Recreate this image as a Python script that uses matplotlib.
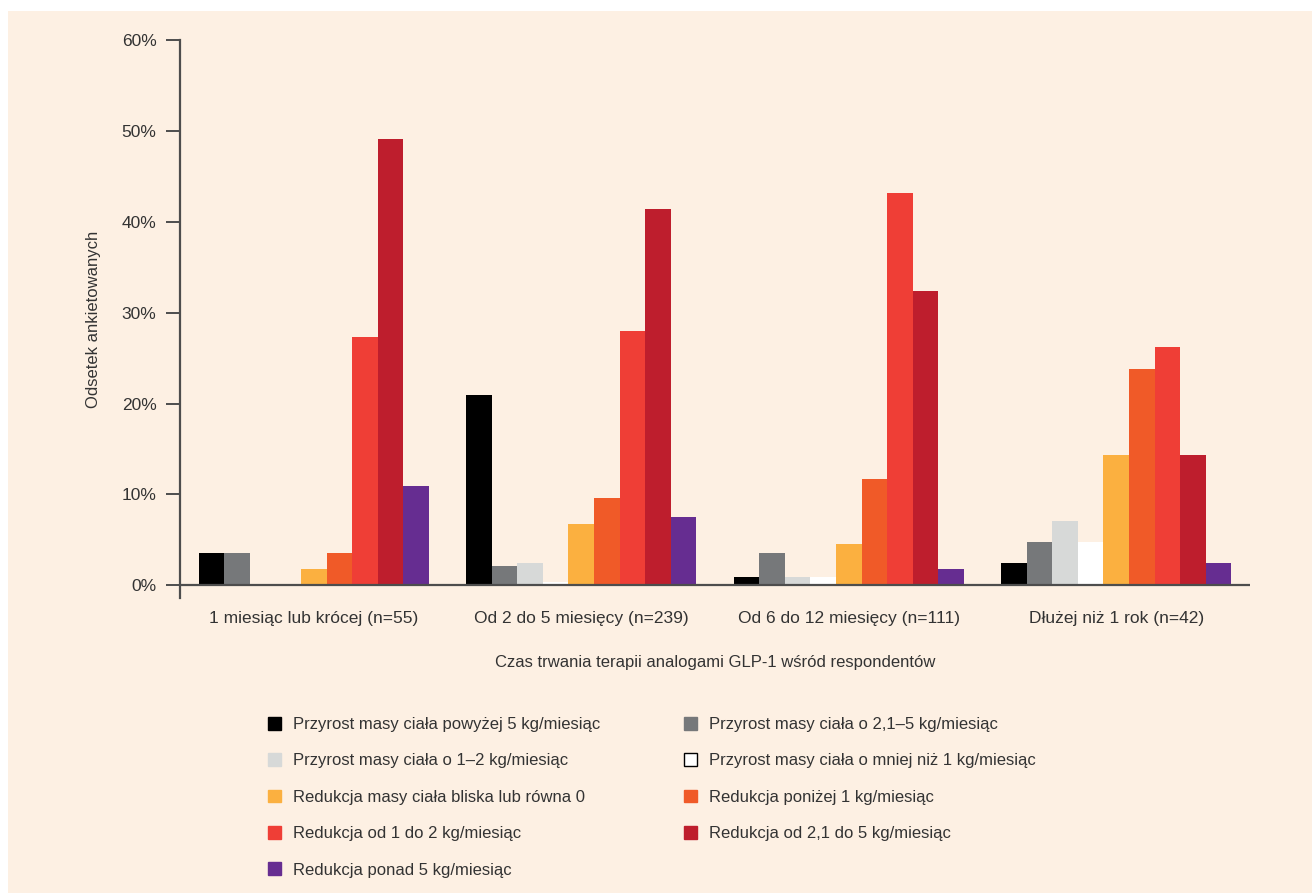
import matplotlib
matplotlib.use("Agg")
import matplotlib.pyplot as plt
import matplotlib.patches as mpatches
import numpy as np

plt.rcParams['font.family'] = ['Liberation Sans', 'DejaVu Sans']

# data (percent of respondents)
groups = ["1 miesiąc lub krócej (n=55)", "Od 2 do 5 miesięcy (n=239)",
          "Od 6 do 12 miesięcy (n=111)", "Dłużej niż 1 rok (n=42)"]
series = ["Przyrost masy ciała powyżej 5 kg/miesiąc",
          "Przyrost masy ciała o 2,1–5 kg/miesiąc",
          "Przyrost masy ciała o 1–2 kg/miesiąc",
          "Przyrost masy ciała o mniej niż 1 kg/miesiąc",
          "Redukcja masy ciała bliska lub równa 0",
          "Redukcja poniżej 1 kg/miesiąc",
          "Redukcja od 1 do 2 kg/miesiąc",
          "Redukcja od 2,1 do 5 kg/miesiąc",
          "Redukcja ponad 5 kg/miesiąc"]
gain_over5 = [3.6, 20.9, 0.9, 2.4]
gain_2_5 = [3.6, 2.1, 3.6, 4.8]
gain_1_2 = [0.0, 2.5, 0.9, 7.1]
gain_below1 = [0.0, 0.4, 0.9, 4.8]
loss_zero = [1.8, 6.7, 4.5, 14.3]
loss_below1 = [3.6, 9.6, 11.7, 23.8]
loss_1_2 = [27.3, 28.0, 43.2, 26.2]
loss_2_5 = [49.1, 41.4, 32.4, 14.3]
loss_over5 = [10.9, 7.5, 1.8, 2.4]
values = [gain_over5, gain_2_5, gain_1_2, gain_below1, loss_zero,
          loss_below1, loss_1_2, loss_2_5, loss_over5]
colors = ["#000000", "#76787a", "#d7d9d8", "#ffffff", "#fbb040",
          "#f05a28", "#ef3e36", "#be1e2d", "#662d91"]
yticks = [0, 10, 20, 30, 40, 50, 60]

bg = "#fdf0e3"
axcol = "#4d4d4d"
txt = "#333333"

fig = plt.figure(figsize=(13.12, 8.93), dpi=100, facecolor="white")
# beige panel behind everything
fig.patches.append(mpatches.Rectangle((8 / 1312, 0), 1, 1 - 11 / 893,
                                      transform=fig.transFigure,
                                      facecolor=bg, edgecolor="none", zorder=-10))

ax = fig.add_axes([180 / 1312, 1 - 598 / 893, 1070 / 1312, 558 / 893])
ax.set_facecolor("none")

x = np.arange(len(groups))
w = 25.6 / 267.5
n = len(series)
for i in range(n):
    ax.bar(x + (i - (n - 1) / 2) * w, values[i], width=w, color=colors[i],
           linewidth=0, zorder=2)

ax.set_xlim(-0.5, 3.5)
ax.set_ylim(-1.4, 60)
ax.axhline(0, color=axcol, linewidth=1.6, zorder=3)
for s in ["top", "right", "bottom"]:
    ax.spines[s].set_visible(False)
ax.spines["left"].set_color(axcol)
ax.spines["left"].set_linewidth(1.6)

ax.set_yticks(yticks)
ax.set_yticklabels([f"{v}%" for v in yticks])
ax.tick_params(axis="y", length=10, width=1.4, color=axcol, pad=7,
               labelsize=12.5, labelcolor=txt)
ax.set_xticks(x)
ax.set_xticklabels(groups)
ax.tick_params(axis="x", length=0, pad=9, labelsize=12.5, labelcolor=txt)

ax.set_ylabel("Odsetek ankietowanych", fontsize=12, color=txt, labelpad=15)
ax.set_xlabel("Czas trwania terapii analogami GLP-1 wśród respondentów",
              fontsize=12, color=txt, labelpad=21)

handles = [mpatches.Patch(facecolor=c, edgecolor="black" if c == "#ffffff" else c,
                          linewidth=1.0, label=l) for c, l in zip(colors, series)]
col1 = [handles[i] for i in (0, 2, 4, 6, 8)]
col2 = [handles[i] for i in (1, 3, 5, 7)]
leg_kw = dict(frameon=False, fontsize=12, handlelength=0.8, handleheight=0.8,
              handletextpad=0.7, labelspacing=1.27, labelcolor=txt,
              borderpad=0, borderaxespad=0, loc="upper left")
fig.legend(handles=col1, bbox_to_anchor=(268 / 1312, 1 - 717 / 893), **leg_kw)
fig.legend(handles=col2, bbox_to_anchor=(684 / 1312, 1 - 717 / 893), **leg_kw)

fig.savefig("out.png", dpi=100, facecolor="white")
